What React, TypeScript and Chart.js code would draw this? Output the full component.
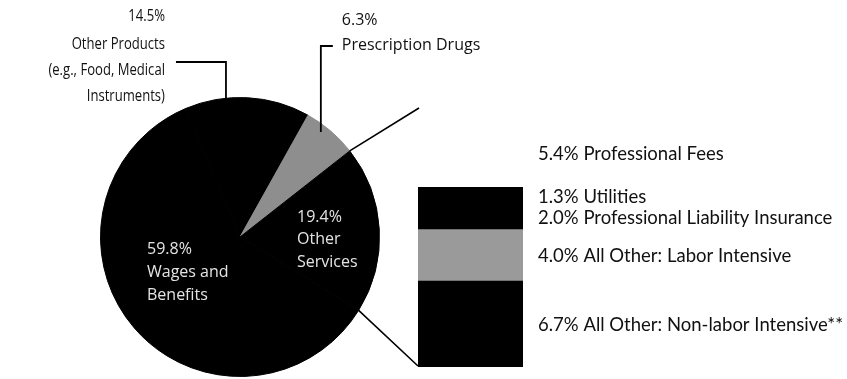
import React, { useEffect, useRef } from "react";
import { Chart, registerables } from "chart.js";
Chart.register(...registerables);

// ---- data ----
const pieLabels = ["Other Products", "Prescription Drugs", "Other Services", "Wages and Benefits"];
const pieValues = [14.5, 6.3, 19.4, 59.8];
const pieColors = ["#000000", "#8e8e8e", "#000000", "#000000"];

const barLabels = [
  "All Other: Non-labor Intensive**",
  "All Other: Labor Intensive",
  "Professional Liability Insurance",
  "Utilities",
  "Professional Fees",
];
const barValues = [6.7, 4.0, 2.0, 1.3, 5.4];
const barColors = ["#000000", "#9a9a9a", "#000000", "#000000", "#ffffff"];

const otherProductsText = ["14.5%", "Other Products", "(e.g., Food, Medical", "Instruments)"];
const drugsText = ["6.3%", "Prescription Drugs"];
const wagesText = ["59.8%", "Wages and", "Benefits"];
const servicesText = ["19.4%", "Other", "Services"];

const W = 847;
const H = 379;
const FONT_OS = '16px "Open Sans", sans-serif';
const FONT_TL = '17px "Open Sans", sans-serif';
const FONT_R = '18.5px Lato, sans-serif';

export default function App() {
  const pieRef = useRef<HTMLCanvasElement>(null);
  const barRef = useRef<HTMLCanvasElement>(null);

  useEffect(() => {
    const pie = new Chart(pieRef.current!, {
      type: "pie",
      data: {
        labels: pieLabels,
        datasets: [{ data: pieValues, backgroundColor: pieColors, borderColor: pieColors, borderWidth: 1 }],
      },
      options: {
        responsive: false,
        animation: false,
        devicePixelRatio: 1,
        rotation: -23,
        layout: { padding: { left: 100, right: W - 380, top: 97, bottom: H - 377 } },
        plugins: { legend: { display: false }, tooltip: { enabled: false } },
      },
    });

    const annot = {
      id: "annot",
      afterDraw(chart: any) {
        const ctx = chart.ctx;
        const meta = pie.getDatasetMeta(0);
        const arcs: any[] = meta.data as any[];
        const pt = (arc: any, frac: number, rf: number) => {
          const a = arc.startAngle + (arc.endAngle - arc.startAngle) * frac;
          const r = arc.outerRadius * rf;
          return { x: arc.x + r * Math.cos(a), y: arc.y + r * Math.sin(a) };
        };
        const area = chart.chartArea;
        const barLeft = area.left;
        const barTop = area.top;
        const barBottom = area.bottom;

        ctx.save();
        ctx.strokeStyle = "#000";
        ctx.lineWidth = 1.6;
        // connector lines Other Services -> bar
        const sArc = arcs[2];
        const p1 = pt(sArc, 0, 1);
        const p2 = pt(sArc, 1, 1);
        ctx.beginPath();
        ctx.moveTo(p1.x, p1.y);
        ctx.lineTo(barLeft + 1, barTop - 10);
        ctx.moveTo(p2.x, p2.y);
        ctx.lineTo(barLeft, barBottom - 1);
        ctx.stroke();

        // leader: Other Products
        const op = pt(arcs[0], 0.33, 1);
        ctx.lineWidth = 1.8;
        ctx.beginPath();
        ctx.moveTo(op.x, op.y + 2);
        ctx.lineTo(op.x, 62);
        ctx.lineTo(op.x - 50, 62);
        ctx.stroke();
        // leader: Prescription Drugs
        const pd = pt(arcs[1], 0.37, 0.95);
        ctx.beginPath();
        ctx.moveTo(pd.x, pd.y);
        ctx.lineTo(pd.x, 46);
        ctx.lineTo(pd.x + 12, 46);
        ctx.stroke();

        ctx.fillStyle = "#111";
        ctx.textBaseline = "middle";
        // Other Products text (condensed)
        ctx.font = FONT_TL;
        ctx.textAlign = "right";
        const opY = [16, 44, 70, 96];
        ctx.save();
        ctx.translate(op.x - 61, 0);
        ctx.scale(0.77, 1);
        otherProductsText.forEach((t, i) => ctx.fillText(t, 0, opY[i]));
        ctx.restore();
        // Drugs text
        ctx.font = FONT_OS;
        ctx.textAlign = "left";
        const pdY = [20, 45];
        drugsText.forEach((t, i) => ctx.fillText(t, pd.x + 21, pdY[i]));

        // inside pie labels
        ctx.fillStyle = "#e4e4e4";
        const wy = [249, 272, 295];
        wagesText.forEach((t, i) => ctx.fillText(t, 147, wy[i]));
        const sy = [217, 239, 262];
        servicesText.forEach((t, i) => ctx.fillText(t, 297, sy[i]));

        // bar labels
        ctx.font = FONT_R;
        ctx.fillStyle = "#111";
        const yScale = chart.scales.y;
        let cum = 0;
        barValues.forEach((v, i) => {
          const mid = yScale.getPixelForValue(cum + v / 2);
          cum += v;
          ctx.fillText(v.toFixed(1) + "% " + barLabels[i], area.right + 15, mid + 1);
        });
        ctx.restore();
      },
    };

    const bar = new Chart(barRef.current!, {
      type: "bar",
      data: {
        labels: ["Other Services"],
        datasets: barValues.map((v, i) => ({
          label: barLabels[i],
          data: [v],
          backgroundColor: barColors[i],
          borderWidth: 0,
          barPercentage: 1,
          categoryPercentage: 1,
        })),
      },
      options: {
        responsive: false,
        animation: false,
        devicePixelRatio: 1,
        layout: { padding: { left: 418, right: W - 523, top: 118, bottom: H - 367 } },
        scales: {
          x: { stacked: true, display: false },
          y: { stacked: true, display: false, min: 0, max: 19.4 },
        },
        plugins: { legend: { display: false }, tooltip: { enabled: false } },
      },
      plugins: [annot],
    });

    return () => {
      bar.destroy();
      pie.destroy();
    };
  }, []);

  return (
    <div style={{ position: "fixed", left: 0, top: 0, width: W, height: H, background: "#fff" }}>
      <canvas ref={pieRef} width={W} height={H} style={{ position: "absolute", left: 0, top: 0 }} />
      <canvas ref={barRef} width={W} height={H} style={{ position: "absolute", left: 0, top: 0 }} />
    </div>
  );
}
